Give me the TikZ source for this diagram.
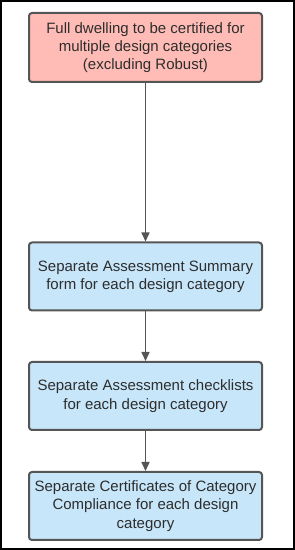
\documentclass[tikz,border=0pt]{standalone}
\usepackage{fontspec}
\setmainfont{Liberation Sans}
\usepackage{xcolor}
\usetikzlibrary{arrows.meta, positioning}
\definecolor{flRed}{RGB}{255,188,182}
\definecolor{flBlue}{RGB}{199,230,249}
\definecolor{flEdge}{RGB}{85,85,85}
\definecolor{flText}{RGB}{45,45,45}

\begin{document}
\begin{tikzpicture}[
    x=1pt, y=1pt,
    font=\fontsize{15}{18.3}\selectfont, >=Triangle,
    start/.style={draw=flEdge, fill=flRed, line width=2pt,
                rounded corners=3pt, align=center, text=flText,
                minimum width=233pt, minimum height=69pt},
    stage/.style={draw=flEdge, fill=flBlue, line width=2pt,
                rounded corners=3pt, align=center, text=flText,
                minimum width=233pt, minimum height=68pt},
    arr/.style={-{Triangle[length=9pt, width=8pt]}, line width=1.6pt, draw=flEdge}
]
% frame round the whole picture
\useasboundingbox (0,0) rectangle (295,550);
\draw[line width=2.4pt] (1.2,1.2) rectangle (293.8,548.8);

% the certification path, top to bottom
\node[start] (full) at (145.5,502.5)
    {Full dwelling to be certified for\\multiple design categories\\(excluding Robust)};
\node[stage] (summary) at (145.5,273.5)
    {Separate Assessment Summary\\form for each design category};
\node[stage] (checks) at (145.5,154)
    {Separate Assessment checklists\\for each design category};
\node[stage] (certs) at (145.5,44)
    {Separate Certificates of Category\\Compliance for each design\\category};

% arrows between the stages
\draw[arr] (full) -- (summary);
\draw[arr] (summary) -- (checks);
\draw[arr] (checks) -- (certs);

\end{tikzpicture}
\end{document}
